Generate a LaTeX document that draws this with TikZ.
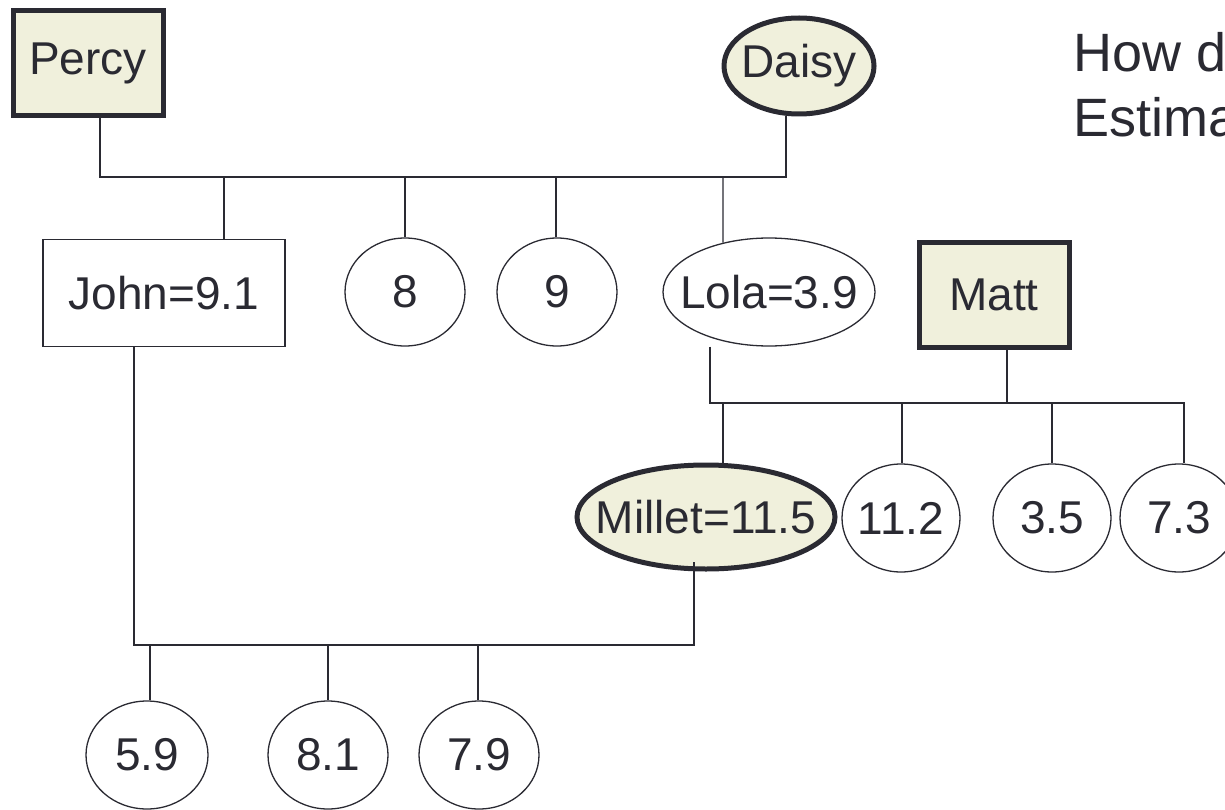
\documentclass[tikz,border=0pt]{standalone}
\usepackage{fontspec}
\setmainfont{Liberation Sans}
\usetikzlibrary{shapes.geometric}
\definecolor{ink}{RGB}{42,42,50}
\definecolor{cream}{RGB}{240,240,220}
\newcommand\ctr[1]{\makebox[0pt]{#1}}
\begin{document}
\begin{tikzpicture}[x=1pt,y=-1pt,
  base/.style={draw=ink, text=ink, inner sep=0pt, line width=1.3pt,
    font=\fontsize{46}{50}\selectfont},
  sqr/.style={base, rectangle},
  ell/.style={base, ellipse},
  hi/.style={fill=cream, line width=5pt},
  link/.style={draw=ink, line width=1.3pt},
  note/.style={text=ink, inner sep=0pt, anchor=base west, font=\fontsize{54}{60}\selectfont}]
\useasboundingbox (0,0) rectangle (1225,810);
\clip (0,0) rectangle (1225,810);
% nodes
\node[sqr,hi,minimum width=150,minimum height=105] (percy) at (88,63) {\ctr{Percy}};
\node[ell,hi,minimum width=150,minimum height=96] (daisy) at (799,66) {\ctr{Daisy}};
\node[sqr,minimum width=242,minimum height=107] (john) at (164,293) {\ctr{John=9.1}};
\node[ell,minimum width=120,minimum height=108] (n8) at (405,292) {\ctr{8}};
\node[ell,minimum width=120,minimum height=108] (n9) at (557,292) {\ctr{9}};
\node[ell,minimum width=212,minimum height=108] (lola) at (769,292) {\ctr{Lola=3.9}};
\node[sqr,hi,minimum width=150,minimum height=105] (matt) at (994,295) {\ctr{Matt}};
\node[ell,hi,minimum width=258,minimum height=104] (millet) at (706,517) {\ctr{Millet=11.5}};
\node[ell,minimum width=118,minimum height=108] (n112) at (901,518) {\ctr{11.2}};
\node[ell,minimum width=118,minimum height=108] (n35) at (1052,518) {\ctr{3.5}};
\node[ell,minimum width=118,minimum height=108] (n73) at (1179,518) {\ctr{7.3}};
\node[ell,minimum width=122,minimum height=108] (n59) at (147,755) {\ctr{5.9}};
\node[ell,minimum width=120,minimum height=108] (n81) at (328,755) {\ctr{8.1}};
\node[ell,minimum width=120,minimum height=108] (n79) at (479,755) {\ctr{7.9}};
\node[note] (q1) at (1073,72) {How do};
\node[note] (q2) at (1073,137) {Estimate};
% bar 1
\coordinate (b1L) at (100,177);
\coordinate (b1R) at (786,177);
\coordinate (d1) at (224,177);
\coordinate (d2) at (405,177);
\coordinate (d3) at (556,177);
\coordinate (d4) at (723,177);
\draw[link] (percy.south -| b1L) -- (b1L) -- (b1R) -- (daisy.south -| b1R);
\draw[link] (d1) -- (john.north -| d1);
\draw[link] (d2) -- (n8.north -| d2);
\draw[link] (d3) -- (n9.north -| d3);
\draw[link] (d4) -- (lola.133);
% bar 2
\coordinate (b2L) at (710,403);
\coordinate (b2R) at (1184,403);
\coordinate (e1) at (723,403);
\coordinate (e2) at (902,403);
\coordinate (e3) at (1052,403);
\coordinate (m1) at (1007,403);
\draw[link] (lola.south -| b2L) -- (b2L) -- (b2R) -- (n73.north -| b2R);
\draw[link] (matt.south -| m1) -- (m1);
\draw[link] (e1) -- (millet.north -| e1);
\draw[link] (e2) -- (n112.north -| e2);
\draw[link] (e3) -- (n35.north -| e3);
% bar 3
\coordinate (b3L) at (134,645);
\coordinate (b3R) at (694,645);
\coordinate (f1) at (150,645);
\coordinate (f2) at (328,645);
\coordinate (f3) at (478,645);
\draw[link] (john.south -| b3L) -- (b3L) -- (b3R) -- ([yshift=10pt]millet.south -| b3R);
\draw[link] (f1) -- (n59.north -| f1);
\draw[link] (f2) -- (n81.north -| f2);
\draw[link] (f3) -- (n79.north -| f3);
\end{tikzpicture}
\end{document}
